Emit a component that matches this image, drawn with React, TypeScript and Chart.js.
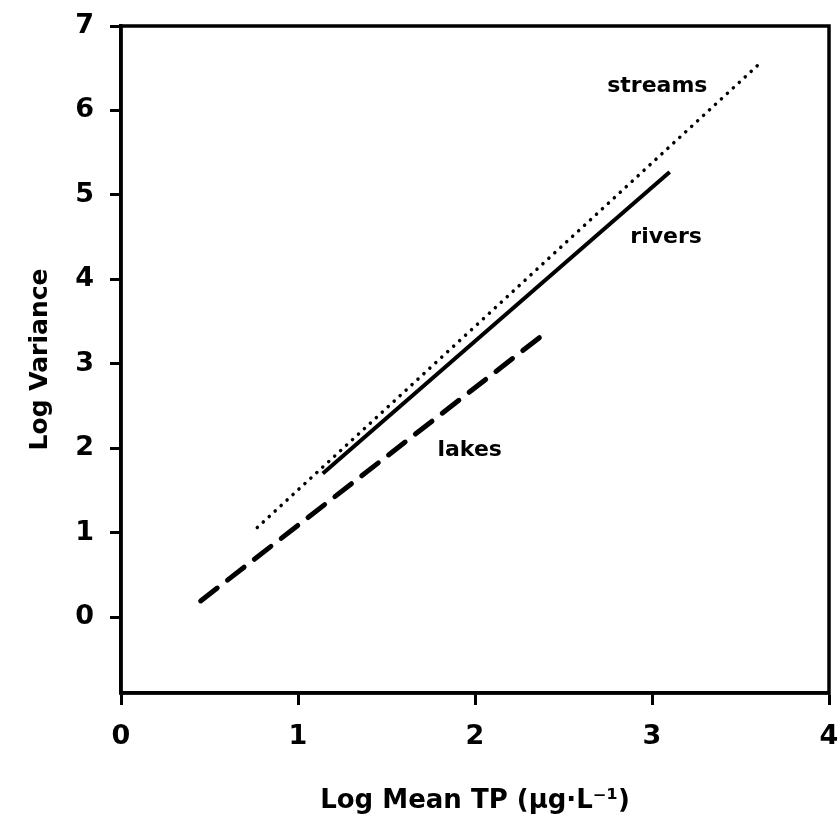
import React, { useEffect, useRef } from "react";
import { Chart, registerables } from "chart.js";

Chart.register(...registerables);

// Regression lines (log mean TP vs log variance)
const streamsX = [0.77, 3.6];
const streamsY = [1.06, 6.54];
const riversX = [1.14, 3.1];
const riversY = [1.7, 5.27];
const lakesX = [0.45, 2.42];
const lakesY = [0.19, 3.4];

// Line labels
const labelNames = ["streams", "rivers", "lakes"];
const labelX = [3.03, 3.08, 1.97];
const labelY = [6.29, 4.5, 1.98];

// Axes
const xTicks = [0, 1, 2, 3, 4];
const yTicks = [0, 1, 2, 3, 4, 5, 6, 7];
const xTitle = "Log Mean TP (\u00b5g\u00b7L\u207b\u00b9)";
const yTitle = "Log Variance";

const FONT = "'DejaVu Sans', 'Liberation Sans', Arial, sans-serif";

const toPts = (xs: number[], ys: number[]) => xs.map((x, i) => ({ x, y: ys[i] }));

const framePlugin = {
  id: "frame",
  afterDraw(chart: any) {
    const { ctx, chartArea } = chart;
    ctx.save();
    ctx.strokeStyle = "#000";
    ctx.lineWidth = 3.5;
    ctx.strokeRect(chartArea.left, chartArea.top, chartArea.right - chartArea.left, chartArea.bottom - chartArea.top);
    // labels
    ctx.fillStyle = "#000";
    ctx.font = `bold 22px ${FONT}`;
    ctx.textAlign = "center";
    ctx.textBaseline = "middle";
    const xs = chart.scales.x;
    const ys = chart.scales.y;
    labelNames.forEach((name, i) => {
      ctx.fillText(name, xs.getPixelForValue(labelX[i]), ys.getPixelForValue(labelY[i]));
    });
    ctx.restore();
  },
};

export default function App() {
  const ref = useRef<HTMLCanvasElement | null>(null);
  useEffect(() => {
    if (!ref.current) return;
    const chart = new Chart(ref.current, {
      type: "scatter",
      data: {
        datasets: [
          {
            label: "streams",
            data: toPts(streamsX, streamsY),
            showLine: true,
            borderColor: "#000",
            borderWidth: 3.5,
            borderDash: [0.1, 8],
            borderCapStyle: "round",
            pointRadius: 0,
          },
          {
            label: "rivers",
            data: toPts(riversX, riversY),
            showLine: true,
            borderColor: "#000",
            borderWidth: 4,
            pointRadius: 0,
          },
          {
            label: "lakes",
            data: toPts(lakesX, lakesY),
            showLine: true,
            borderColor: "#000",
            borderWidth: 5,
            borderDash: [21, 13],
            borderCapStyle: "round",
            pointRadius: 0,
          },
        ],
      },
      options: {
        animation: false,
        responsive: true,
        maintainAspectRatio: false,
        layout: { padding: { left: 0, top: 26, right: 11, bottom: 0 } },
        plugins: {
          legend: { display: false },
          tooltip: { enabled: false },
        },
        scales: {
          x: {
            type: "linear",
            min: 0,
            max: 4,
            afterBuildTicks: (s: any) => {
              s.ticks = xTicks.map((v) => ({ value: v }));
            },
            afterFit: (s: any) => {
              s.height = 137;
              s.paddingLeft = 0;
              s.paddingRight = 0;
            },
            border: { display: true, color: "#000", width: 3.5 },
            grid: { drawOnChartArea: false, drawTicks: true, tickLength: 12, tickWidth: 3, tickColor: "#000" },
            ticks: {
              color: "#000",
              padding: 16,
              font: { family: FONT, size: 27, weight: "bold" },
              maxRotation: 0,
            },
            title: {
              display: true,
              text: xTitle,
              color: "#000",
              font: { family: FONT, size: 26, weight: "bold" },
              padding: { top: 0, bottom: 13 },
            },
          },
          y: {
            type: "linear",
            min: -0.9,
            max: 7,
            afterBuildTicks: (s: any) => {
              s.ticks = yTicks.map((v) => ({ value: v }));
            },
            afterFit: (s: any) => {
              s.width = 121;
              s.paddingTop = 0;
              s.paddingBottom = 0;
            },
            border: { display: true, color: "#000", width: 3.5 },
            grid: { drawOnChartArea: false, drawTicks: true, tickLength: 11, tickWidth: 3, tickColor: "#000" },
            ticks: {
              color: "#000",
              padding: 16,
              font: { family: FONT, size: 27, weight: "bold" },
            },
            title: {
              display: true,
              text: yTitle,
              color: "#000",
              font: { family: FONT, size: 25, weight: "bold" },
              padding: { top: 25, bottom: 0 },
            },
          },
        },
      },
      plugins: [framePlugin],
    } as any);
    return () => chart.destroy();
  }, []);

  return (
    <div style={{ position: "absolute", left: 0, top: 0, width: 840, height: 830, background: "#fff" }}>
      <canvas ref={ref} />
    </div>
  );
}
